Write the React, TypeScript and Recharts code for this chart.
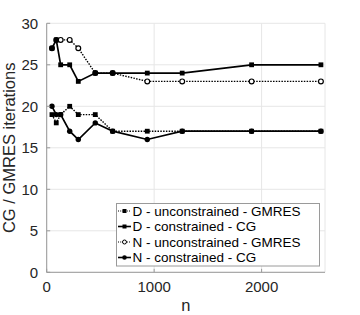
import React from "react";
import {
  LineChart,
  Line,
  XAxis,
  YAxis,
  CartesianGrid,
  Legend,
  Label,
} from "recharts";

// ---- data ----
const nValues = [49, 89, 130, 214, 294, 452, 614, 936, 1261, 1907, 2552];
const dUnconGMRES = [19, 18, 19, 20, 19, 19, 17, 17, 17, 17, 17];
const dConCG = [27, 28, 25, 25, 23, 24, 24, 24, 24, 25, 25];
const nUnconGMRES = [27, 28, 28, 28, 27, 24, 24, 23, 23, 23, 23];
const nConCG = [20, 19, 19, 17, 16, 18, 17, 16, 17, 17, 17];

const xTicks = [0, 1000, 2000];
const yTicks = [0, 5, 10, 15, 20, 25, 30];
const xMax = 2590;

const seriesNames = [
  "D - unconstrained - GMRES",
  "D - constrained - CG",
  "N - unconstrained - GMRES",
  "N - constrained - CG",
];

const data = nValues.map((n, i) => ({
  n,
  dU: dUnconGMRES[i],
  dC: dConCG[i],
  nU: nUnconGMRES[i],
  nC: nConCG[i],
}));

const FONT = "'Liberation Sans', Arial, Helvetica, sans-serif";
const AXIS = "#9a9a9a";
const TEXT = "#262626";
const DOT = "1.5 1.3";

type Marker = "square" | "openCircle" | "circle";

const seriesDefs: { key: string; name: string; dashed: boolean; marker: Marker }[] = [
  { key: "nU", name: seriesNames[2], dashed: true, marker: "openCircle" },
  { key: "dU", name: seriesNames[0], dashed: true, marker: "square" },
  { key: "nC", name: seriesNames[3], dashed: false, marker: "circle" },
  { key: "dC", name: seriesNames[1], dashed: false, marker: "square" },
];

const drawMarker = (m: Marker, cx: number, cy: number, key?: any) => {
  if (m === "square")
    return <rect key={key} x={cx - 2.4} y={cy - 2.4} width={4.8} height={4.8} fill="#000" />;
  if (m === "openCircle")
    return <circle key={key} cx={cx} cy={cy} r={2.4} fill="#fff" stroke="#000" strokeWidth={1.2} />;
  return <circle key={key} cx={cx} cy={cy} r={2.7} fill="#000" />;
};

const makeDot = (m: Marker) => (props: any) => {
  const { cx, cy, index } = props;
  if (cx == null || cy == null) return <g key={`e${index}`} />;
  return drawMarker(m, cx, cy, `m${index}`);
};

const LeftTick = (props: any) => {
  const { x, y, payload } = props;
  return (
    <g>
      <line x1={x + 8.5} x2={x + 12} y1={y} y2={y} stroke={AXIS} />
      <text x={x} y={y} dy={5.2} textAnchor="end" fontSize={15} fontFamily={FONT} fill={TEXT}>
        {payload.value}
      </text>
    </g>
  );
};

const BottomTick = (props: any) => {
  const { x, y, payload } = props;
  return (
    <g>
      <line x1={x} x2={x} y1={y - 8} y2={y - 11.5} stroke={AXIS} />
      <text x={x} y={y} dy={11.5} textAnchor="middle" fontSize={15} fontFamily={FONT} fill={TEXT}>
        {payload.value}
      </text>
    </g>
  );
};

const RightTick = (props: any) => {
  const { x, y } = props;
  return <line x1={x} x2={x - 3.5} y1={y} y2={y} stroke={AXIS} />;
};

const TopTick = (props: any) => {
  const { x, y } = props;
  return <line x1={x} x2={x} y1={y} y2={y + 3.5} stroke={AXIS} />;
};

const YLabel = (props: any) => {
  const vb = props.viewBox || { x: 0, y: 0, width: 0, height: 0 };
  const cx = vb.x + 15;
  const cy = vb.y + vb.height / 2;
  return (
    <text
      x={cx}
      y={cy}
      transform={`rotate(-90 ${cx} ${cy})`}
      textAnchor="middle"
      fontSize={16.5}
      fontFamily={FONT}
      fill={TEXT}
    >
      CG / GMRES iterations
    </text>
  );
};

const XLabel = (props: any) => {
  const vb = props.viewBox || { x: 0, y: 0, width: 0, height: 0 };
  return (
    <text
      x={vb.x + vb.width / 2}
      y={vb.y + 38.5}
      textAnchor="middle"
      fontSize={16.5}
      fontFamily={FONT}
      fill={TEXT}
    >
      n
    </text>
  );
};

const legendOrder = [1, 3, 0, 2]; // indexes into seriesDefs: dU, dC, nU, nC

const LegendContent = () => (
  <svg width={205} height={64} style={{ display: "block" }}>
    <rect x={0.5} y={0.5} width={203} height={62.5} fill="#fff" stroke={AXIS} strokeWidth={1} />
    {legendOrder.map((si, i) => {
      const s = seriesDefs[si];
      const cy = 8 + i * 15.5;
      return (
        <g key={s.key}>
          <line
            x1={2}
            x2={15}
            y1={cy}
            y2={cy}
            stroke="#000"
            strokeWidth={s.dashed ? 1.2 : 1.6}
            strokeDasharray={s.dashed ? "1 1.2" : undefined}
          />
          {s.marker === "square" ? (
            <rect x={6.5} y={cy - 2} width={4} height={4} fill="#000" />
          ) : s.marker === "openCircle" ? (
            <circle cx={8.5} cy={cy} r={2} fill="#fff" stroke="#000" strokeWidth={1} />
          ) : (
            <circle cx={8.5} cy={cy} r={2.3} fill="#000" />
          )}
          <text x={16.5} y={cy + 4.9} fontSize={13.5} fontFamily={FONT} fill="#000">
            {s.name}
          </text>
        </g>
      );
    })}
  </svg>
);

export default function App() {
  return (
    <div style={{ position: "absolute", left: 0, top: 0, background: "#fff" }}>
      <LineChart
        width={360}
        height={315}
        data={data}
        margin={{ top: 23.3, right: 35, bottom: 12.7, left: 0 }}
      >
        <CartesianGrid stroke="#e6e6e6" strokeWidth={1} />
        <XAxis
          dataKey="n"
          type="number"
          domain={[0, xMax]}
          ticks={xTicks}
          allowDataOverflow
          height={30}
          tickSize={0}
          tickMargin={8}
          tick={<BottomTick />}
          axisLine={{ stroke: AXIS }}
          tickLine={false}
        >
          <Label content={<XLabel />} />
        </XAxis>
        <XAxis
          xAxisId="t"
          orientation="top"
          dataKey="n"
          type="number"
          domain={[0, xMax]}
          ticks={xTicks}
          allowDataOverflow
          height={0}
          tickSize={0}
          tickMargin={0}
          tick={<TopTick />}
          axisLine={{ stroke: AXIS }}
          tickLine={false}
        />
        <YAxis
          type="number"
          domain={[0, 30]}
          ticks={yTicks}
          width={46.7}
          tickSize={0}
          tickMargin={8.5}
          tick={<LeftTick />}
          axisLine={{ stroke: AXIS }}
          tickLine={false}
        >
          <Label content={<YLabel />} />
        </YAxis>
        <YAxis
          yAxisId="r"
          orientation="right"
          type="number"
          domain={[0, 30]}
          ticks={yTicks}
          width={0}
          tickSize={0}
          tickMargin={0}
          tick={<RightTick />}
          axisLine={{ stroke: AXIS }}
          tickLine={false}
        />
        {seriesDefs.map((s) => (
          <Line
            key={s.key}
            dataKey={s.key}
            name={s.name}
            type="linear"
            stroke="#000"
            strokeWidth={s.dashed ? 1.4 : 1.7}
            strokeDasharray={s.dashed ? DOT : undefined}
            dot={makeDot(s.marker)}
            activeDot={false}
            isAnimationActive={false}
          />
        ))}
        <Legend
          layout="vertical"
          align="center"
          verticalAlign="middle"
          content={<LegendContent />}
          wrapperStyle={{ left: 116, top: 203, width: 205, height: 64 }}
        />
      </LineChart>
    </div>
  );
}
